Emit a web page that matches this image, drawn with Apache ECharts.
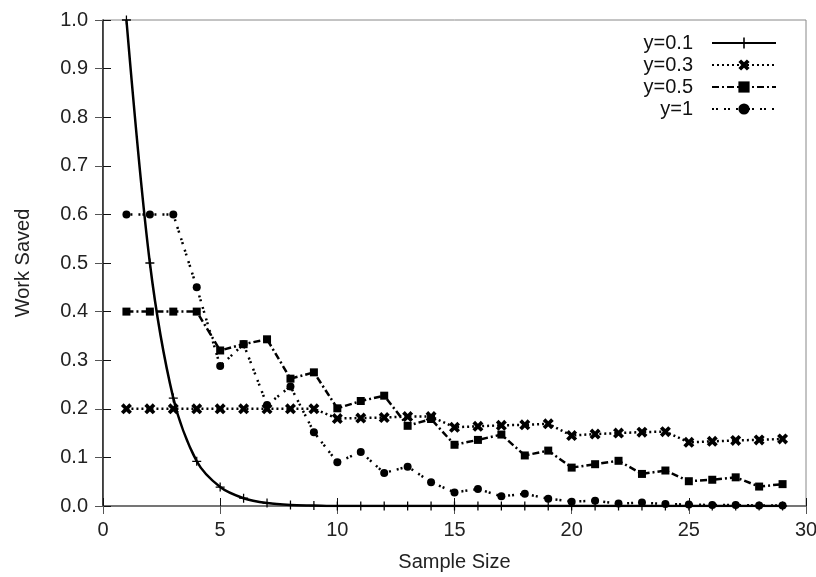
<!DOCTYPE html>
<html><head><meta charset="utf-8">
<script src="https://cdn.jsdelivr.net/npm/echarts@6/dist/echarts.min.js"></script>
<style>html,body{margin:0;padding:0;background:#fff}#c{width:816px;height:577px}</style>
</head><body><div id="c"></div>
<script>
const sampleSizes = [1,2,3,4,5,6,7,8,9,10,11,12,13,14,15,16,17,18,19,20,21,22,23,24,25,26,27,28,29];
const seriesNames = ['y=0.1','y=0.3','y=0.5','y=1'];
const y01 = [1.0,0.5,0.222,0.092,0.039,0.016,0.006,0.002,0.001,0,0,0,0,0,0,0,0,0,0,0,0,0,0,0,0,0,0,0,0];
const y03 = [0.2,0.2,0.2,0.2,0.2,0.2,0.2,0.2,0.2,0.18,0.181,0.182,0.184,0.184,0.162,0.164,0.166,0.167,0.169,0.145,0.148,0.15,0.152,0.153,0.131,0.133,0.135,0.136,0.138];
const y05 = [0.4,0.4,0.4,0.4,0.32,0.333,0.343,0.262,0.275,0.201,0.216,0.227,0.165,0.179,0.126,0.136,0.147,0.104,0.114,0.079,0.086,0.093,0.066,0.073,0.051,0.054,0.059,0.04,0.045];
const y1  = [0.6,0.6,0.6,0.45,0.288,0.333,0.208,0.246,0.152,0.09,0.111,0.068,0.081,0.049,0.028,0.035,0.02,0.025,0.015,0.009,0.011,0.005,0.007,0.004,0.003,0.002,0.002,0.001,0.001];
const xTicks = [0,5,10,15,20,25,30];

const pairs = arr => sampleSizes.map((x,i)=>[x,arr[i]]);
const plus = 'path://M-0.7,-5H0.7V5H-0.7Z M-5,-0.7H5V0.7H-5Z';
const cross = 'path://M-5,-2.6L-2.6,-5L0,-2.4L2.6,-5L5,-2.6L2.4,0L5,2.6L2.6,5L0,2.4L-2.6,5L-5,2.6L-2.4,0Z';
const font = 'Liberation Sans';
const fs = 20;

const chart = echarts.init(document.getElementById('c'), null, {renderer:'canvas'});
chart.setOption({
  animation:false,
  backgroundColor:'#fff',
  textStyle:{fontFamily:font},
  grid:{left:103,right:10,top:20,bottom:71,show:true,borderColor:'#888',borderWidth:1,
        containLabel:false, outerBoundsMode:'none'},
  legend:{
    orient:'vertical', align:'right', right:34, top:28, itemWidth:64, itemHeight:14, itemGap:2,
    textStyle:{fontFamily:font,fontSize:fs,color:'#111',padding:[0,14,0,0]},
    data:seriesNames
  },
  xAxis:[{
    type:'value', min:0, max:30, interval:5,
    name:'Sample Size', nameLocation:'middle', nameGap:46,
    nameTextStyle:{fontFamily:font,fontSize:fs,color:'#222'},
    axisLine:{show:true,lineStyle:{color:'#111',width:1.5}},
    axisTick:{show:true,inside:true,length:8,lineStyle:{color:'#111'}},
    axisLabel:{fontFamily:font,fontSize:fs,color:'#222',margin:14},
    splitLine:{show:false}
  },{
    type:'value', position:'top', min:0, max:30, interval:5,
    axisLine:{show:true,lineStyle:{color:'#888',width:1.5}},
    axisTick:{show:true,inside:true,length:8,lineStyle:{color:'#555'}},
    axisLabel:{show:false}, splitLine:{show:false}
  }],
  yAxis:[{
    type:'value', min:0, max:1, interval:0.1,
    name:'Work Saved', nameLocation:'middle', nameGap:70, nameRotate:90,
    nameTextStyle:{fontFamily:font,fontSize:fs,color:'#222'},
    axisLine:{show:true,lineStyle:{color:'#111',width:1.5}},
    axisTick:{show:true,inside:true,length:8,lineStyle:{color:'#111'}},
    axisLabel:{fontFamily:font,fontSize:fs,color:'#222',margin:15,formatter:v=>v.toFixed(1)},
    splitLine:{show:false}
  },{
    type:'value', position:'right', min:0, max:1, interval:0.1,
    axisLine:{show:true,lineStyle:{color:'#555',width:1}},
    axisTick:{show:true,inside:true,length:8,lineStyle:{color:'#555'}},
    axisLabel:{show:false}, splitLine:{show:false}
  }],
  series:[
    {name:seriesNames[0], type:'line', data:pairs(y01), smooth:0.3,
     symbol:plus, symbolSize:9, showAllSymbol:true,
     lineStyle:{color:'#000',width:2.5,type:'solid'}, itemStyle:{color:'#000'}, z:5},
    {name:seriesNames[1], type:'line', data:pairs(y03),
     symbol:cross, symbolSize:11, showAllSymbol:true,
     lineStyle:{color:'#000',width:2.5,type:[2,3]}, itemStyle:{color:'#000'}},
    {name:seriesNames[2], type:'line', data:pairs(y05),
     symbol:'rect', symbolSize:8, showAllSymbol:true,
     lineStyle:{color:'#000',width:2.5,type:[7,3,2,3]}, itemStyle:{color:'#000'}},
    {name:seriesNames[3], type:'line', data:pairs(y1),
     symbol:'circle', symbolSize:8, showAllSymbol:true,
     lineStyle:{color:'#000',width:2.5,type:[2,2,2,6]}, itemStyle:{color:'#000'}}
  ]
});
</script>
</body></html>
